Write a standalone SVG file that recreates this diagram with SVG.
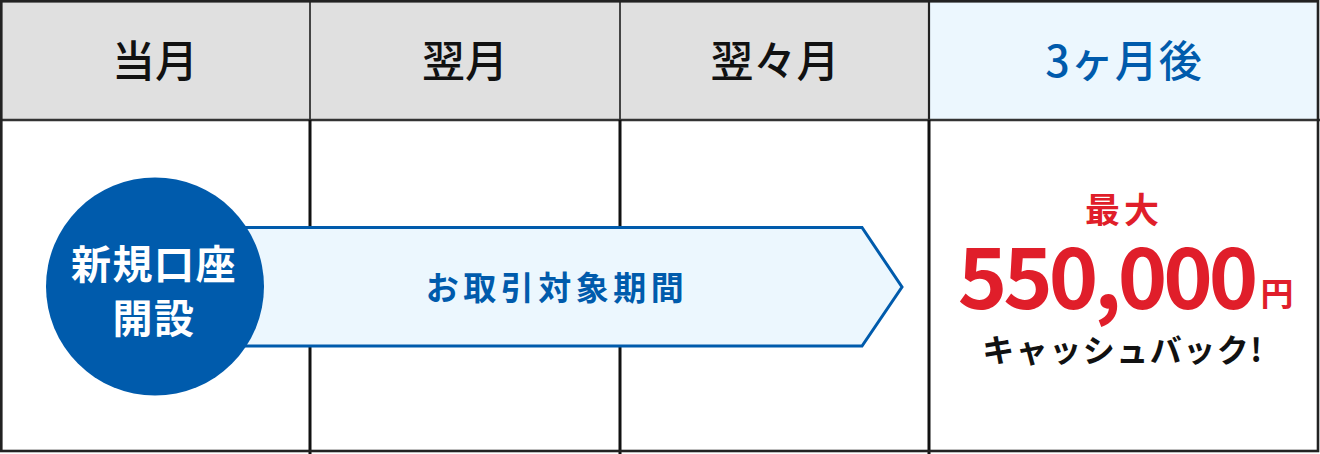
<svg xmlns="http://www.w3.org/2000/svg" width="1320" height="454" viewBox="0 0 1320 454">
<style>
.jp{font-family:"Noto Sans CJK JP","Noto Sans",sans-serif;text-anchor:middle}
.hd{font-size:43px;font-weight:500;fill:#111}
.blue{fill:#005bac}
.red{fill:#e01e2a}
</style>
<rect x="0" y="0" width="1320" height="454" fill="#fff"/>
<g id="header">
<rect x="1.3" y="1.3" width="928" height="118.7" fill="#e0e0e0"/>
<rect x="929" y="1.3" width="389" height="118.7" fill="#ecf7fe"/>
<line x1="310" y1="0" x2="310" y2="120" stroke="#333" stroke-width="1.8"/>
<line x1="620" y1="0" x2="620" y2="120" stroke="#333" stroke-width="1.8"/>
<line x1="929" y1="0" x2="929" y2="120" stroke="#222" stroke-width="2.2"/>
<line x1="0" y1="120" x2="1320" y2="120" stroke="#333" stroke-width="2.6"/>
<text class="jp hd" x="155" y="77">当月</text>
<text class="jp hd" x="465" y="77">翌月</text>
<text class="jp hd" x="775" y="77">翌々月</text>
<text class="jp hd blue" x="1124" y="77" letter-spacing="1">3ヶ月後</text>
</g>
<g id="grid">
<line x1="310" y1="120" x2="310" y2="454" stroke="#111" stroke-width="3"/>
<line x1="620" y1="120" x2="620" y2="454" stroke="#111" stroke-width="3"/>
<line x1="929" y1="120" x2="929" y2="454" stroke="#111" stroke-width="3"/>
<rect x="1.3" y="1.3" width="1316.7" height="449.7" fill="none" stroke="#222" stroke-width="2.6"/>
</g>
<g id="connectors">
<polygon id="period" points="230,227.5 862,227.5 902,287 862,346 230,346" fill="#ecf7fe" stroke="#005bac" stroke-width="3"/>
<text class="jp blue" x="557" y="300" font-size="33" font-weight="700" letter-spacing="4.5">お取引対象期間</text>
</g>
<g id="start">
<circle cx="155" cy="286.5" r="109" fill="#005bac"/>
<text class="jp" x="154" y="279" font-size="40" font-weight="700" fill="#fff" letter-spacing="1.5">新規口座</text>
<text class="jp" x="154" y="333" font-size="40" font-weight="700" fill="#fff" letter-spacing="1.5">開設</text>
</g>
<g id="cashback">
<text class="jp red" x="1124" y="223" font-size="35" font-weight="700" letter-spacing="4">最大</text>
<text class="jp red" x="1106" y="309" font-size="84" font-weight="700" letter-spacing="-4">550,000</text>
<text class="jp red" x="1277" y="306" font-size="33" font-weight="700">円</text>
<text class="jp" x="1123" y="362" font-size="32" font-weight="700" fill="#111" letter-spacing="1.5">キャッシュバック!</text>
</g>
</svg>
